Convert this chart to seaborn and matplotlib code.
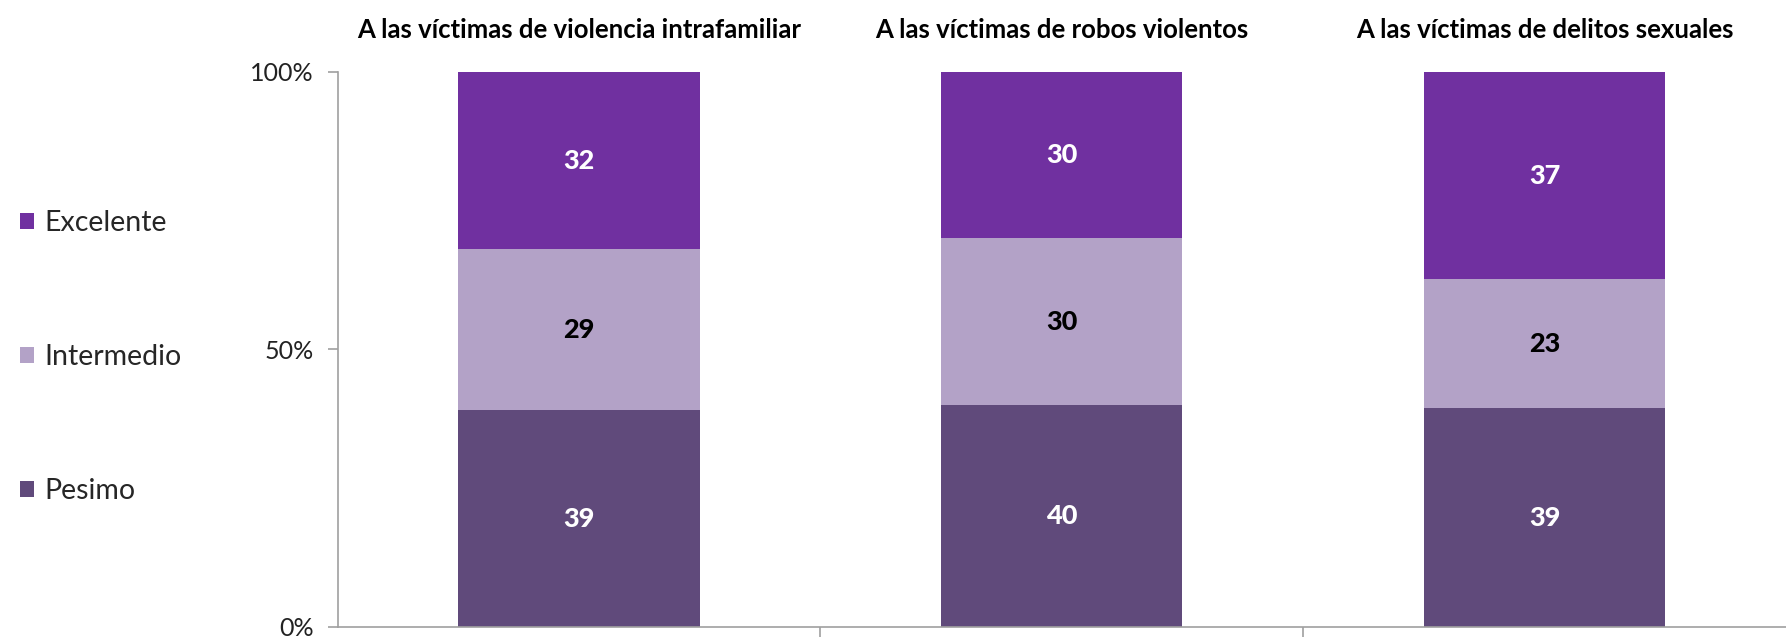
import matplotlib

matplotlib.use("Agg")

import matplotlib.pyplot as plt
import matplotlib.transforms as mtransforms
from matplotlib.patches import Patch
import pandas as pd
import seaborn as sns


CATEGORIES = [
    "A las víctimas de violencia intrafamiliar",
    "A las víctimas de robos violentos",
    "A las víctimas de delitos sexuales",
]
LEVELS = ["Pesimo", "Intermedio", "Excelente"]  # bottom to top
PESIMO = [39, 40, 39]
INTERMEDIO = [29, 30, 23]
EXCELENTE = [32, 30, 37]
COLORS = {"Pesimo": "#604A7B", "Intermedio": "#B3A2C7", "Excelente": "#7030A0"}
LABEL_COLORS = {"Pesimo": "white", "Intermedio": "black", "Excelente": "white"}

sns.set_style("white")
plt.rcParams["font.family"] = ["Lato", "DejaVu Sans"]

values = pd.DataFrame(
    {"Pesimo": PESIMO, "Intermedio": INTERMEDIO, "Excelente": EXCELENTE},
    index=CATEGORIES,
)
# 100% stacked: normalise each row
shares = values.div(values.sum(axis=1), axis=0) * 100
cum = shares.cumsum(axis=1)

fig = plt.figure(figsize=(17.86, 6.41), dpi=100)
ax = fig.add_axes([0.189, 0.022, 0.811, 0.866])

# draw cumulative totals from the top layer down so lower layers overlay
for level in reversed(LEVELS):
    df = pd.DataFrame({"cat": CATEGORIES, "top": cum[level].values})
    sns.barplot(
        data=df, x="cat", y="top", order=CATEGORIES, color=COLORS[level],
        width=0.5, saturation=1, linewidth=0, ax=ax,
    )

# value labels centred in each segment
for level in LEVELS:
    mids = cum[level] - shares[level] / 2
    for i, cat in enumerate(CATEGORIES):
        ax.text(i, mids[cat], f"{values.loc[cat, level]}", ha="center", va="center",
                fontsize=19.5, fontweight="black", color=LABEL_COLORS[level])

# category titles above the plot
trans = mtransforms.blended_transform_factory(ax.transData, ax.transAxes)
for i, cat in enumerate(CATEGORIES):
    ax.text(i, 1.076, cat, transform=trans, ha="center", va="center",
            fontsize=18.5, fontweight="bold", color="black")

ax.set_xlim(-0.5, 2.5)
ax.set_ylim(0, 100)
ax.set_yticks([0, 50, 100])
ax.set_yticklabels(["0%", "50%", "100%"], fontsize=18, color="#222222")
ax.set_xticks([0.5, 1.5])
ax.set_xticklabels([])
ax.set_xlabel("")
ax.set_ylabel("")
ax.tick_params(axis="y", length=7, width=1.2, color="#a0a0a0", pad=10, left=True)
ax.tick_params(axis="x", length=7, width=1.2, color="#a0a0a0", bottom=True)
for side in ["top", "right"]:
    ax.spines[side].set_visible(False)
for side in ["left", "bottom"]:
    ax.spines[side].set_color("#a0a0a0")
    ax.spines[side].set_linewidth(1.2)

handles = [Patch(facecolor=COLORS[l], edgecolor="none") for l in reversed(LEVELS)]
fig.legend(
    handles, list(reversed(LEVELS)), loc="center left", bbox_to_anchor=(0.0, 0.443),
    frameon=False, fontsize=20.5, handlelength=0.5, handleheight=0.5,
    handletextpad=0.35, labelspacing=3.8, borderaxespad=0.3,
)

fig.savefig("out.png", dpi=100)
plt.close(fig)
